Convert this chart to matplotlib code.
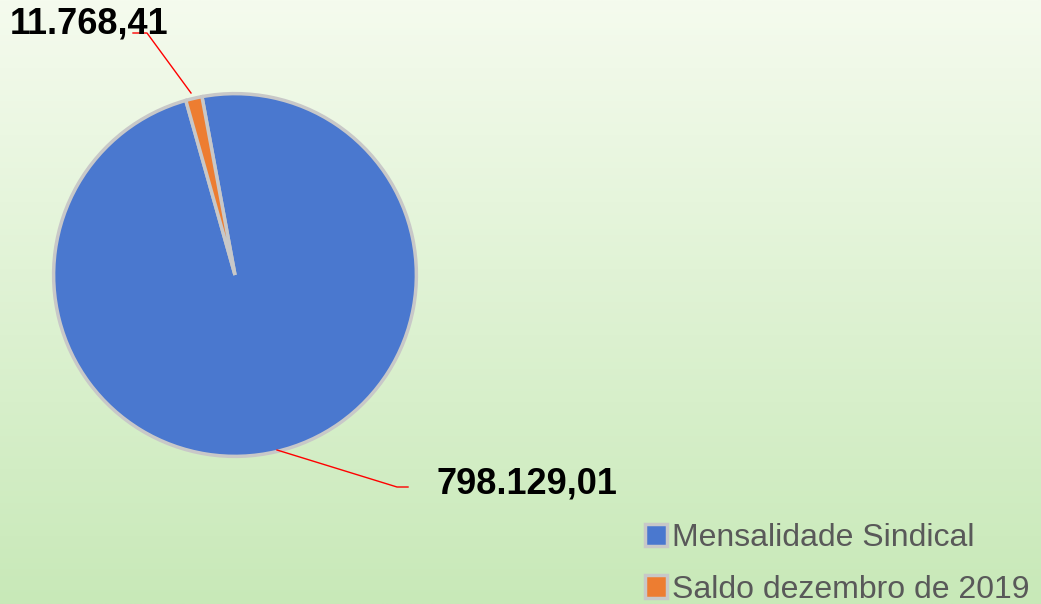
import matplotlib
matplotlib.use("Agg")
from matplotlib import pyplot as plt
import numpy as np

labels = ["Mensalidade Sindical", "Saldo dezembro de 2019"]
values = [798129.01, 11768.41]
value_texts = ["798.129,01", "11.768,41"]
colors = ["#4a78cf", "#ed7d31"]

plt.rcParams['font.family'] = ['Liberation Sans', 'DejaVu Sans']

W, H = 1041, 604
fig = plt.figure(figsize=(W / 100, H / 100), dpi=100)

# background gradient, light at the top, green at the bottom
bg = fig.add_axes([0, 0, 1, 1])
top = np.array([245, 251, 238]) / 255
bottom = np.array([200, 233, 184]) / 255
t = np.linspace(0, 1, 256)[:, None, None]
grad = top * (1 - t) + bottom * t
grad = np.repeat(grad, 2, axis=1)
bg.imshow(grad, aspect='auto', extent=[0, 1, 0, 1])
bg.axis('off')

# pie, placed in pixels: center (235, 275), radius 185
cx, cy, r = 235, 275, 185
ax = fig.add_axes([(cx - r) / W, (H - cy - r) / H, 2 * r / W, 2 * r / H])
wedges, _ = ax.pie(values, colors=colors, startangle=100.5, counterclock=False,
                   radius=1.0,
                   wedgeprops=dict(edgecolor='#c8c8c8', linewidth=2.5))
ax.set_xlim(-1.02, 1.02)
ax.set_ylim(-1.02, 1.02)
ax.axis('off')

# data labels with red leader lines (figure pixel coords)
def px(x, y):
    return x / W, 1 - y / H

leaders = [
    [(277, 450), (397, 487), (408, 487)],
    [(191, 93), (147, 33), (133, 33)],
]
for pts in leaders:
    xs, ys = zip(*[px(*p) for p in pts])
    fig.add_artist(plt.Line2D(xs, ys, color='red', linewidth=1.0))

fig.text(*px(437, 484), value_texts[0], fontsize=26, fontweight='bold',
         ha='left', va='center', color='black')
fig.text(*px(10, 24), value_texts[1], fontsize=26, fontweight='bold',
         ha='left', va='center', color='black')

fig.legend(wedges, labels, loc='upper left', bbox_to_anchor=px(645, 523),
           frameon=False, fontsize=23, labelcolor='#595959',
           handlelength=0.7, handleheight=0.7, handletextpad=0.15,
           labelspacing=0.68, borderaxespad=0, borderpad=0)

fig.savefig("out.png", dpi=100)
